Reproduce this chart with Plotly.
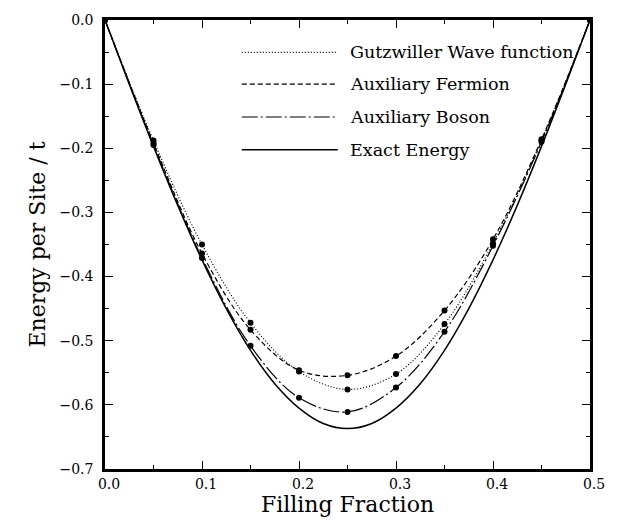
import plotly.graph_objects as go

# Filling fraction grid for the variational results
filling = [0.0, 0.05, 0.10, 0.15, 0.20, 0.25, 0.30, 0.35, 0.40, 0.45, 0.50]
gutzwiller = [0.0, -0.188, -0.350, -0.472, -0.548, -0.576, -0.552, -0.474, -0.348, -0.188, 0.0]
aux_fermion = [0.0, -0.192, -0.364, -0.483, -0.546, -0.554, -0.524, -0.453, -0.342, -0.186, 0.0]
aux_boson = [0.0, -0.195, -0.371, -0.508, -0.589, -0.611, -0.573, -0.486, -0.352, -0.190, 0.0]

# Exact energy curve
exact_x = [0.0, 0.025, 0.05, 0.075, 0.10, 0.125, 0.15, 0.175, 0.20, 0.225, 0.25,
           0.275, 0.30, 0.325, 0.35, 0.375, 0.40, 0.425, 0.45, 0.475, 0.50]
exact_y = [0.0, -0.100, -0.197, -0.289, -0.374, -0.450, -0.515, -0.567, -0.605, -0.629, -0.637,
           -0.629, -0.605, -0.567, -0.515, -0.450, -0.374, -0.289, -0.197, -0.100, 0.0]

legend_labels = ["Gutzwiller Wave function", "Auxiliary Fermion", "Auxiliary Boson", "Exact Energy"]
dash_styles = ["1px,2px", "5px,3px", "16px,3px,2px,3px", "solid"]
line_widths = [1.2, 1.2, 1.2, 1.5]

FONT = "DejaVu Serif"
fig = go.Figure()

series = [gutzwiller, aux_fermion, aux_boson]
for vals, dash, lw in zip(series, dash_styles[:3], line_widths[:3]):
    fig.add_trace(go.Scatter(
        x=filling, y=vals, mode="lines+markers",
        line=dict(color="black", width=lw, dash=dash, shape="spline", smoothing=1.0),
        marker=dict(color="black", size=6),
        cliponaxis=False, showlegend=False))

fig.add_trace(go.Scatter(
    x=exact_x, y=exact_y, mode="lines",
    line=dict(color="black", width=line_widths[3], shape="spline", smoothing=1.0),
    cliponaxis=False, showlegend=False))

# Legend drawn in paper coordinates
row_y = [0.928, 0.857, 0.784, 0.711]
for lab, dash, lw, yy in zip(legend_labels, dash_styles, line_widths, row_y):
    fig.add_shape(type="line", xref="paper", yref="paper",
                  x0=0.282, x1=0.48, y0=yy, y1=yy,
                  line=dict(color="black", width=lw, dash=dash))
    fig.add_annotation(xref="paper", yref="paper", x=0.50, y=yy, text=lab,
                       showarrow=False, xanchor="left", yanchor="middle",
                       font=dict(family=FONT, size=17.5, color="black"))

axis_common = dict(
    showgrid=False, zeroline=False, showline=True, linecolor="black", linewidth=2.5,
    mirror="ticks", ticks="inside", ticklen=8, tickwidth=1.2, tickcolor="black",
    tickfont=dict(family=FONT, size=14, color="black"),
)

fig.update_xaxes(range=[0, 0.5], dtick=0.1, tick0=0, tickformat=".1f", ticklabelshift=4,
                 minor=dict(dtick=0.05, ticks="inside", ticklen=4, tickcolor="black", tickwidth=1.2),
                 title=dict(text="Filling Fraction", font=dict(family=FONT, size=22, color="black"), standoff=4),
                 **axis_common)
fig.update_yaxes(range=[-0.7, 0], dtick=0.1, tick0=0, tickformat=".1f", ticklabelstandoff=6,
                 minor=dict(dtick=0.05, ticks="inside", ticklen=4, tickcolor="black", tickwidth=1.2),
                 title=dict(text="Energy per Site / t", font=dict(family=FONT, size=22, color="black"), standoff=8),
                 **axis_common)

fig.update_layout(
    width=617, height=527,
    margin=dict(l=105, r=27, t=17, b=58),
    plot_bgcolor="white", paper_bgcolor="white",
)

fig.write_html("out.html")
